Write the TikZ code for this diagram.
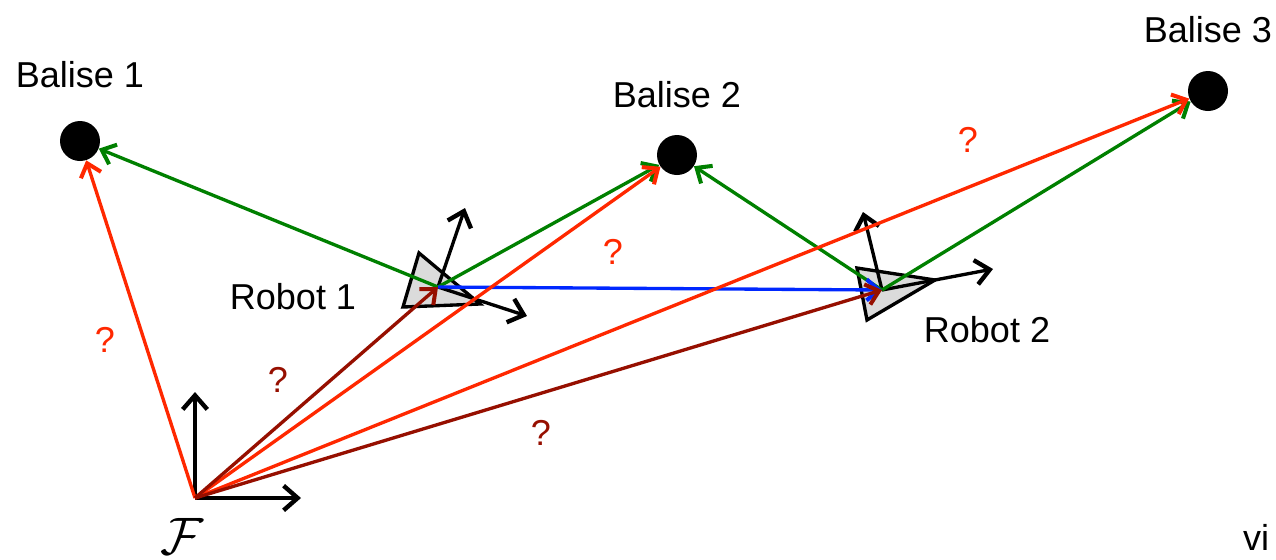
\documentclass[tikz,border=0pt]{standalone}
\usepackage{fontspec}
\setmainfont{Liberation Sans}
\usetikzlibrary{arrows.meta}
\definecolor{qred}{RGB}{255,40,0}
\definecolor{qdark}{RGB}{150,15,0}
\definecolor{qgreen}{RGB}{0,128,0}
\definecolor{qblue}{RGB}{0,40,255}
\tikzstyle{balise} = [circle, fill=black, minimum size=0.8cm, inner sep=0pt]
\tikzstyle{txt} = [font=\fontsize{20.5}{24}\selectfont, inner sep=0pt]
\tikzstyle{vec} = [line width=1.9pt, -{Straight Barb[length=7pt, width=12pt, line width=2.3pt]}]
\tikzstyle{axis} = [line width=2.3pt, -{Straight Barb[length=8pt, width=14pt, line width=2.5pt]}]
\tikzstyle{robot} = [line width=1.9pt, fill=black!14, line join=miter]

\begin{document}
\begin{tikzpicture}[x=0.02cm, y=-0.02cm]
    \useasboundingbox (0,0) rectangle (1276,559);
    % balises
    \node (balise1) [balise] at (80,141) {};
    \node (balise2) [balise] at (677,155) {};
    \node (balise3) [balise] at (1208,91) {};
    \node [txt] at (80,75) {Balise 1};
    \node [txt] at (677,95) {Balise 2};
    \node [txt] at (1208,30) {Balise 3};

    % robots
    \coordinate (r1) at (438,287);
    \coordinate (r2) at (882,290);
    \draw [robot] (419,253) -- (403,307) -- (480,304) -- cycle;
    \draw [robot] (857,268) -- (867,320) -- (935,280) -- cycle;
    \coordinate (r1up) at (465,208);
    \coordinate (r1x) at (527,316);
    \coordinate (r2up) at (863,212);
    \coordinate (r2x) at (993,269);
    \draw [axis, line width=1.9pt] (r1) -- (r1up);
    \draw [axis, line width=1.9pt] (r1) -- (r1x);
    \draw [axis, line width=1.9pt] (r2) -- (r2up);
    \draw [axis, line width=1.9pt] (r2) -- (r2x);
    \node [txt] at (293,297) {Robot 1};
    \node [txt] at (987,330) {Robot 2};

    % repere global
    \coordinate (F) at (195,498);
    \coordinate (Fy) at (195,392);
    \coordinate (Fx) at (301,498);
    \draw [axis] (F) -- (Fy);
    \draw [axis] (F) -- (Fx);
    \node [scale=3, inner sep=0pt] at (182,536) {$\mathcal{F}$};

    % mesures
    \draw [vec, qgreen] (r1) -- (balise1);
    \draw [vec, qgreen] (r1) -- (balise2);
    \draw [vec, qgreen] (r2) -- (balise2);
    \draw [vec, qgreen] (r2) -- (balise3);
    \draw [vec, qblue] (r1) -- (r2);

    % inconnues
    \draw [vec, qred] (F) -- (balise1);
    \draw [vec, qred] (F) -- (balise2);
    \draw [vec, qred] (F) -- (balise3);
    \draw [vec, qdark] (F) -- (r1);
    \draw [vec, qdark] (F) -- (r2);
    \node [txt, qred] at (105,340) {?};
    \node [txt, qdark] at (278,380) {?};
    \node [txt, qred] at (613,252) {?};
    \node [txt, qred] at (968,140) {?};
    \node [txt, qdark] at (541,433) {?};

    \node [txt] at (1256,537) {vi};
\end{tikzpicture}
\end{document}
